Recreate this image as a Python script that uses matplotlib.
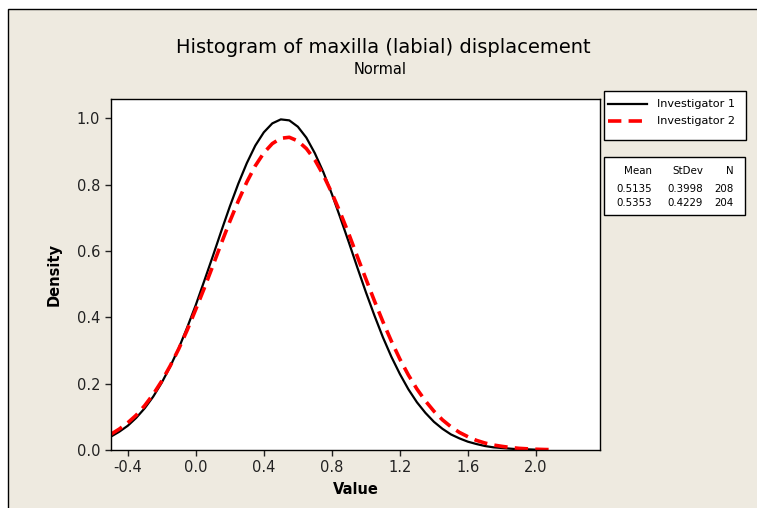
import matplotlib
matplotlib.use("Agg")
import matplotlib.pyplot as plt
from matplotlib.patches import Rectangle
from matplotlib.lines import Line2D

plt.rcParams['font.family'] = ['DejaVu Sans']
plt.rcParams['axes.unicode_minus'] = False

# values
x1 = [-0.50, -0.45, -0.40, -0.35, -0.30, -0.25, -0.20, -0.15, -0.10, -0.05,
      0.00, 0.05, 0.10, 0.15, 0.20, 0.25, 0.30, 0.35, 0.40, 0.45,
      0.50, 0.55, 0.60, 0.65, 0.70, 0.75, 0.80, 0.85, 0.90, 0.95,
      1.00, 1.05, 1.10, 1.15, 1.20, 1.25, 1.30, 1.35, 1.40, 1.45,
      1.50, 1.55, 1.60, 1.65, 1.70, 1.75, 1.80, 1.85, 1.90, 1.95, 2.00]
dens1 = [0.040, 0.055, 0.073, 0.097, 0.126, 0.161, 0.203, 0.252, 0.307, 0.370,
         0.437, 0.510, 0.584, 0.660, 0.734, 0.803, 0.865, 0.918, 0.958, 0.985,
         0.997, 0.994, 0.975, 0.942, 0.895, 0.838, 0.772, 0.700, 0.626, 0.550,
         0.476, 0.406, 0.340, 0.281, 0.229, 0.183, 0.144, 0.112, 0.085, 0.064,
         0.047, 0.035, 0.025, 0.018, 0.012, 0.008, 0.006, 0.004, 0.002, 0.002, 0.001]

x2 = [-0.50, -0.45, -0.40, -0.35, -0.30, -0.25, -0.20, -0.15, -0.10, -0.05,
      0.00, 0.05, 0.10, 0.15, 0.20, 0.25, 0.30, 0.35, 0.40, 0.45,
      0.50, 0.55, 0.60, 0.65, 0.70, 0.75, 0.80, 0.85, 0.90, 0.95,
      1.00, 1.05, 1.10, 1.15, 1.20, 1.25, 1.30, 1.35, 1.40, 1.45,
      1.50, 1.55, 1.60, 1.65, 1.70, 1.75, 1.80, 1.85, 1.90, 1.95,
      2.00, 2.05, 2.10]
dens2 = [0.047, 0.063, 0.082, 0.105, 0.134, 0.168, 0.208, 0.254, 0.305, 0.362,
         0.424, 0.488, 0.555, 0.623, 0.689, 0.751, 0.808, 0.857, 0.896, 0.924,
         0.940, 0.943, 0.932, 0.909, 0.875, 0.829, 0.775, 0.715, 0.651, 0.583,
         0.516, 0.450, 0.387, 0.328, 0.274, 0.226, 0.184, 0.148, 0.117, 0.091,
         0.070, 0.053, 0.040, 0.029, 0.021, 0.015, 0.011, 0.0075, 0.005, 0.0035,
         0.0023, 0.0015, 0.001]

labels = ["Investigator 1", "Investigator 2"]
means = ["0.5135", "0.5353"]
stdevs = ["0.3998", "0.4229"]
ns = ["208", "204"]

xticks = [-0.4, 0.0, 0.4, 0.8, 1.2, 1.6, 2.0]
yticks = [0.0, 0.2, 0.4, 0.6, 0.8, 1.0]

W, H = 757, 508
fig = plt.figure(figsize=(W / 100, H / 100), dpi=100, facecolor='white')


def fx(px):
    return px / W


def fy(py):
    return 1 - py / H


# beige panel with a frame on the left and top
bg = Rectangle((fx(8), -0.1), 1.1, fy(9) + 0.1, transform=fig.transFigure,
               facecolor='#EEEAE0', edgecolor='black', linewidth=1, zorder=-10)
fig.add_artist(bg)

styles = [dict(color='black', linewidth=1.6, linestyle='-'),
          dict(color='red', linewidth=2.6, linestyle=(0, (3.7, 2.0)))]

ax = fig.add_axes([fx(110.7), fy(450), 489.6 / W, 351.5 / H])
ax.set_facecolor('white')
ax.plot(x1, dens1, **styles[0])
ax.plot(x2, dens2, **styles[1])

ax.set_xlim(-0.5, 2.378)
ax.set_ylim(0, 1.06)
ax.set_xticks(xticks)
ax.set_yticks(yticks)
ax.set_xticklabels([f"{t:.1f}" for t in xticks])
ax.set_yticklabels([f"{t:.1f}" for t in yticks])
ax.tick_params(direction='out', length=4, width=1, labelsize=10.5, colors='#222222')
for s in ax.spines.values():
    s.set_linewidth(1)

ax.set_xlabel("Value", fontsize=10.5, fontweight='bold', labelpad=5)
ax.set_ylabel("Density", fontsize=10.5, fontweight='bold', labelpad=11)

fig.text(fx(383), fy(47), "Histogram of maxilla (labial) displacement",
         ha='center', va='center', fontsize=14)
fig.text(fx(380), fy(69), "Normal", ha='center', va='center', fontsize=10.5)

# legend box
leg_box = Rectangle((fx(603.5), fy(139.5)), 142 / W, 48 / H, transform=fig.transFigure,
                    facecolor='white', edgecolor='black', linewidth=1)
fig.add_artist(leg_box)
for row_y, lab, st in zip([103.7, 121.3], labels, styles):
    fig.add_artist(Line2D([fx(608), fx(647)], [fy(row_y), fy(row_y)],
                          transform=fig.transFigure, **st))
    fig.text(fx(657), fy(row_y), lab, ha='left', va='center', fontsize=8.1)

# statistics table
tbl = Rectangle((fx(603.5), fy(215)), 141 / W, 58 / H, transform=fig.transFigure,
                facecolor='white', edgecolor='black', linewidth=1)
fig.add_artist(tbl)
col_x = [652, 703, 734]
row_ys = [171, 189, 203]
for cx, head in zip(col_x, ["Mean", "StDev", "N"]):
    fig.text(fx(cx), fy(row_ys[0]), head, ha='right', va='center', fontsize=7.4)
for i in range(2):
    for cx, val in zip(col_x, [means[i], stdevs[i], ns[i]]):
        fig.text(fx(cx), fy(row_ys[i + 1]), val, ha='right', va='center', fontsize=7.4)

fig.savefig("out.png", dpi=100, facecolor=fig.get_facecolor())
